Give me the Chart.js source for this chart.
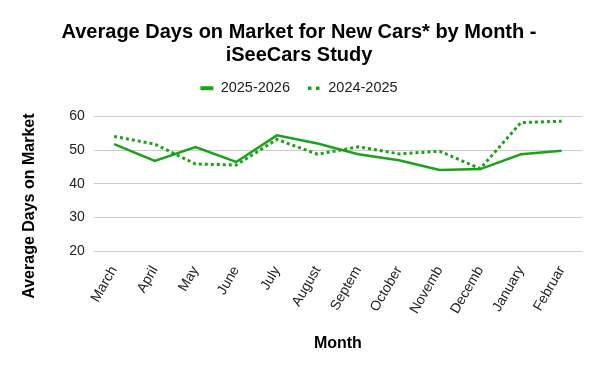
<!DOCTYPE html>
<html>
<head>
<meta charset="utf-8">
<script src="https://cdn.jsdelivr.net/npm/chart.js@4"></script>
<style>
html,body{margin:0;padding:0;background:#fff;}
#wrap{width:600px;height:371px;}
</style>
</head>
<body>
<div id="wrap"><canvas id="mycanvas" width="600" height="371"></canvas></div>
<script>
var months=["March","April","May","June","July","August","Septem","October","Novemb","Decemb","January","Februar"];
var days2526=[51.8,46.8,50.9,46.5,54.4,52.0,48.8,47.0,44.1,44.4,48.8,49.8];
var days2425=[54.1,51.8,45.9,45.6,53.2,48.8,51.0,48.9,49.7,44.5,58.2,58.6];
var yTicks=[20,30,40,50,60];

var green="#1aa31a";
var font="'Liberation Sans', Arial, sans-serif";

var chartdata={
	labels:months,
	datasets:[{
		label:"2025-2026",
		data:days2526,
		fill:false,
		lineTension:0,
		borderColor:green,
		backgroundColor:green,
		borderWidth:2.5,
		pointRadius:0
	},{
		label:"2024-2025",
		data:days2425,
		fill:false,
		lineTension:0,
		borderColor:green,
		backgroundColor:green,
		borderWidth:3,
		borderDash:[3,3],
		pointRadius:0
	}]
};

// legend gets some extra room under it
var legendGap={
	id:"legendGap",
	beforeInit:function(chart){
		var fit=chart.legend.fit;
		chart.legend.fit=function(){
			fit.bind(chart.legend)();
			this.height+=11;
		};
	}
};

var ctx=document.getElementById("mycanvas");
var linegraph=new Chart(ctx,{
	type:"line",
	data:chartdata,
	plugins:[legendGap],
	options:{
		responsive:false,
		animation:false,
		layout:{padding:{left:16,right:18,top:11,bottom:14}},
		plugins:{
			title:{
				display:true,
				text:["Average Days on Market for New Cars* by Month -","iSeeCars Study"],
				color:"#000",
				font:{family:font,size:20,weight:"bold",lineHeight:1.15},
				padding:{top:10,bottom:-4}
			},
			legend:{
				labels:{
					color:"#222",
					font:{family:font,size:14.5},
					usePointStyle:true,
					pointStyleWidth:13,
					padding:18,
					generateLabels:function(chart){
						return chart.data.datasets.map(function(ds,i){
							return {
								text:ds.label,
								fillStyle:ds.borderColor,
								strokeStyle:ds.borderColor,
								lineWidth:i==0?4:3.5,
								lineDash:i==0?[]:[3.5,4.5],
								lineCap:"butt",
								pointStyle:"line",
								fontColor:"#222",
								hidden:false,
								datasetIndex:i
							};
						});
					}
				}
			},
			tooltip:{enabled:false}
		},
		scales:{
			x:{
				offset:true,
				grid:{display:false},
				border:{display:false},
				ticks:{
					color:"#222",
					font:{family:font,size:14},
					maxRotation:60,
					minRotation:60,
					autoSkip:false,
					padding:4
				},
				title:{
					display:true,
					text:"Month",
					color:"#000",
					font:{family:font,size:16,weight:"bold"},
					padding:{top:13}
				}
			},
			y:{
				min:20,
				max:60,
				afterBuildTicks:function(axis){
					axis.ticks=yTicks.map(function(v){return {value:v};});
				},
				grid:{color:"#cccccc",drawTicks:false},
				border:{display:false},
				ticks:{
					color:"#222",
					font:{family:font,size:14},
					padding:9
				},
				title:{
					display:true,
					text:"Average Days on Market          ",
					color:"#000",
					font:{family:font,size:16,weight:"bold"},
					padding:{bottom:21}
				}
			}
		}
	}
});
</script>
</body>
</html>
